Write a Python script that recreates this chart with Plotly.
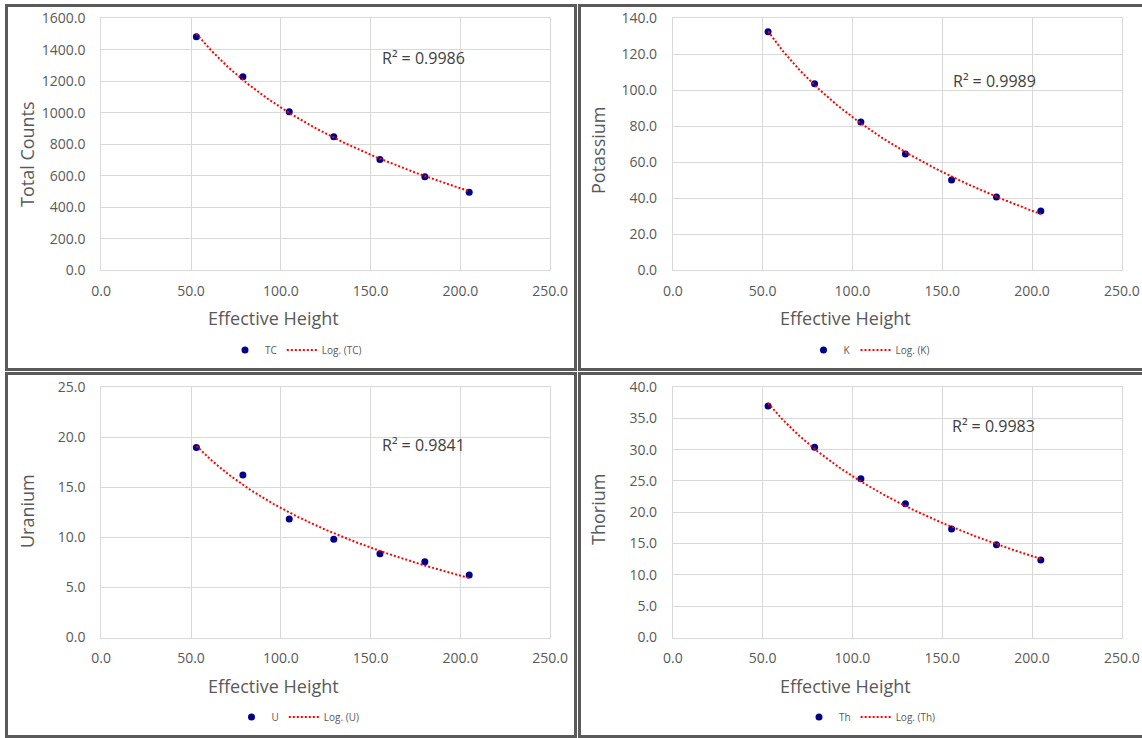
import numpy as np
import plotly.graph_objects as go

# ---------------- data ----------------
effective_height = [53.0, 78.9, 104.7, 129.5, 155.2, 180.2, 204.9]
total_counts = [1484, 1230, 1007, 848, 704, 594, 496]
potassium = [132.6, 103.7, 82.4, 64.6, 50.2, 40.7, 32.9]
uranium = [18.96, 16.23, 11.83, 9.80, 8.36, 7.56, 6.23]
thorium = [36.96, 30.39, 25.35, 21.37, 17.34, 14.80, 12.36]

series_names = ["TC", "K", "U", "Th"]
y_titles = ["Total Counts", "Potassium", "Uranium", "Thorium"]
r2_labels = ["R² = 0.9986", "R² = 0.9989", "R² = 0.9841", "R² = 0.9983"]
y_max = [1600, 140, 25, 40]
y_step = [200, 20, 5, 5]
x_max = 250
x_step = 50
x_title = "Effective Height"

series_values = [total_counts, potassium, uranium, thorium]

# ---------------- layout constants (pixels) ----------------
W, H = 1142, 738
FONT = "Open Sans"
TXT = "#595959"
GRID = "#d9d9d9"

# plot areas: (left, right, top, bottom)
plot_px = [(101.2, 550.2, 18.4, 270.2), (672.9, 1121.8, 18.4, 270.2),
           (101.2, 550.2, 387.0, 637.5), (672.9, 1121.8, 387.0, 637.5)]
# panel frames (left, right, top, bottom) centre-line of 3px border
frame_px = [(6.5, 575.5, 5.5, 369.5), (579.5, 1160, 5.5, 369.5),
            (6.5, 575.5, 373.5, 736.5), (579.5, 1160, 373.5, 736.5)]
ytitle_pos = [(27, 154), (598, 151), (27, 511), (598, 510)]
xtitle_pos = [(273, 318), (845, 318), (273, 686), (845, 686)]
r2_pos = [(423, 58), (994, 81), (423, 445), (993, 426)]
legend_pos = [(296, 350), (869, 350), (298, 717), (870, 717)]


def px_x(v):
    return v / W


def px_y(v):
    return 1 - v / H


fig = go.Figure()
layout = dict(
    template="none",
    width=W, height=H, autosize=False,
    margin=dict(l=0, r=0, t=0, b=0, pad=0, autoexpand=False),
    paper_bgcolor="white", plot_bgcolor="white",
    font=dict(family=FONT, color=TXT),
    annotations=[], shapes=[],
)

x_arr = np.array(effective_height, dtype=float)

for i in range(4):
    n = "" if i == 0 else str(i + 1)
    xa, ya = "x" + n, "y" + n
    lg = "legend" + n
    y_arr = np.array(series_values[i], dtype=float)

    # logarithmic trendline y = a*ln(x) + b (least squares)
    a, b = np.polyfit(np.log(x_arr), y_arr, 1)
    xt = np.linspace(x_arr.min(), x_arr.max(), 200)
    yt = a * np.log(xt) + b

    fig.add_trace(go.Scatter(
        x=x_arr, y=y_arr, mode="markers", name=series_names[i],
        marker=dict(color="#00008b", size=7, line=dict(width=0)),
        xaxis=xa, yaxis=ya, legend=lg))
    fig.add_trace(go.Scatter(
        x=xt, y=yt, mode="lines", name=f"Log. ({series_names[i]})",
        line=dict(color="#ff0000", width=2, dash="2px,2px"),
        xaxis=xa, yaxis=ya, legend=lg))

    l, r, t, btm = plot_px[i]
    layout["xaxis" + n] = dict(
        domain=[px_x(l), px_x(r)], anchor=ya, range=[0, x_max],
        tickvals=list(range(0, x_max + 1, x_step)), tickformat=".1f",
        showgrid=True, gridcolor=GRID, gridwidth=1,
        showline=True, linecolor=GRID, linewidth=1, mirror=True,
        zeroline=False, ticks="", ticklabelstandoff=8, automargin=False,
        tickfont=dict(family=FONT, size=14, color=TXT),
    )
    layout["yaxis" + n] = dict(
        domain=[px_y(btm), px_y(t)], anchor=xa, range=[0, y_max[i]],
        tickvals=list(np.arange(0, y_max[i] + 1e-9, y_step[i])), tickformat=".1f",
        showgrid=True, gridcolor=GRID, gridwidth=1,
        showline=True, linecolor=GRID, linewidth=1, mirror=True,
        zeroline=False, ticks="", ticklabelstandoff=12, automargin=False,
        tickfont=dict(family=FONT, size=14, color=TXT),
    )
    lx, ly = legend_pos[i]
    layout[lg] = dict(
        x=px_x(lx), y=px_y(ly), xanchor="center", yanchor="middle",
        orientation="h", font=dict(family=FONT, size=10, color=TXT),
        bgcolor="rgba(0,0,0,0)", itemwidth=30, tracegroupgap=0,
    )

    tx, ty = ytitle_pos[i]
    layout["annotations"].append(dict(
        text=y_titles[i], x=px_x(tx), y=px_y(ty), xref="paper", yref="paper",
        textangle=-90, showarrow=False, xanchor="center", yanchor="middle",
        font=dict(family=FONT, size=18, color=TXT)))
    tx, ty = xtitle_pos[i]
    layout["annotations"].append(dict(
        text=x_title, x=px_x(tx), y=px_y(ty), xref="paper", yref="paper",
        showarrow=False, xanchor="center", yanchor="middle",
        font=dict(family=FONT, size=18, color=TXT)))
    tx, ty = r2_pos[i]
    layout["annotations"].append(dict(
        text=r2_labels[i], x=px_x(tx), y=px_y(ty), xref="paper", yref="paper",
        showarrow=False, xanchor="center", yanchor="middle",
        font=dict(family=FONT, size=16, color="#404040")))

    fl, fr, ft, fb = frame_px[i]
    layout["shapes"].append(dict(
        type="rect", xref="paper", yref="paper",
        x0=px_x(fl), x1=px_x(fr), y0=px_y(fb), y1=px_y(ft),
        line=dict(color="#5a5a5a", width=3), fillcolor="rgba(0,0,0,0)",
        layer="above"))

fig.update_layout(**layout)
fig.write_html(
    "out.html",
    config={"displayModeBar": False},
    post_script="document.body.style.margin='0';document.body.style.overflow='hidden';",
)
